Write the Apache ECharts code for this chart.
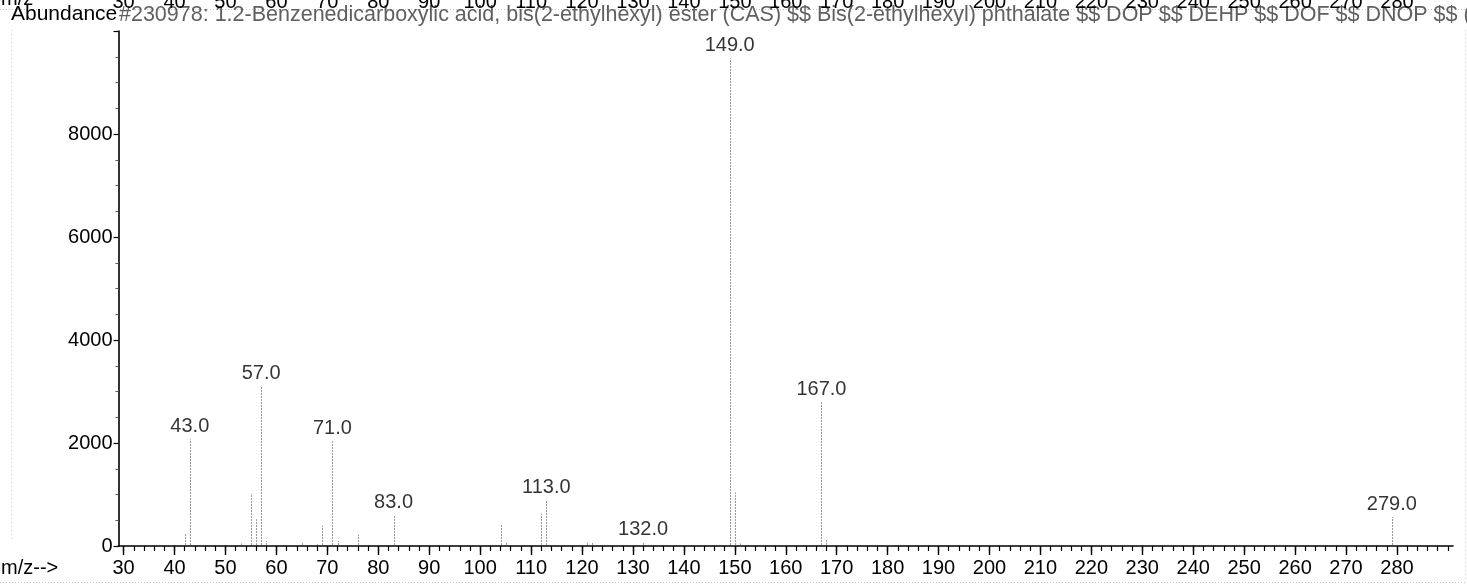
<!DOCTYPE html>
<html>
<head>
<meta charset="utf-8">
<title>Mass spectrum – bis(2-ethylhexyl) phthalate</title>
<script src="https://cdn.jsdelivr.net/npm/echarts@6/dist/echarts.min.js"></script>
<style>
  html, body { margin: 0; padding: 0; background: #ffffff; }
  #chart { width: 1467px; height: 585px; }
</style>
</head>
<body>
<div id="chart"></div>
<script>
// Library spectrum: m/z values and their abundances
const mz        = [42, 43, 53, 55, 56, 57, 58, 65, 68, 69, 71, 72, 76, 83, 104, 105, 112, 113, 121, 122, 132, 148, 149, 150, 151, 167, 168, 279];
const abundance = [245, 2070, 50, 1020, 520, 3100, 100, 80, 40, 395, 2035, 100, 220, 600, 420, 65, 630, 900, 85, 60, 80, 20, 9470, 1040, 50, 2800, 115, 560];

// Peaks that carry an m/z label
const labeledPeaks = [43, 57, 71, 83, 113, 132, 149, 167, 279];

// Axis ticks and labels
const xMajorTicks = [30, 40, 50, 60, 70, 80, 90, 100, 110, 120, 130, 140, 150, 160, 170, 180, 190, 200, 210, 220, 230, 240, 250, 260, 270, 280];
const xMinorTicks = [];
for (let v = 30; v <= 290; v += 2) xMinorTicks.push(v);
const yTickLabels = [0, 2000, 4000, 6000, 8000];

const headerLabel = 'Abundance';
const compoundText = '#230978: 1.2-Benzenedicarboxylic acid, bis(2-ethylhexyl) ester (CAS) $$ Bis(2-ethylhexyl) phthalate $$ DOP $$ DEHP $$ DOF $$ DNOP $$ (';
const xAxisName = 'm/z-->';

const FONT = '"Liberation Sans", Arial, sans-serif';
const X_MIN = 29, X_MAX = 291;

const peaks = mz.map((m, i) => [m, abundance[i]]);
const labelData = labeledPeaks.map(m => [m, abundance[mz.indexOf(m)]]);

const chart = echarts.init(document.getElementById('chart'), null, { renderer: 'canvas' });

const plain = v => String(v);

const option = {
  backgroundColor: '#ffffff',
  animation: false,
  grid: { left: 118.5, right: 14, top: 31, bottom: 39, containLabel: false, outerBoundsMode: 'none' },
  xAxis: [
    {
      type: 'value', min: X_MIN, max: X_MAX, position: 'bottom',
      axisLine: { show: true, onZero: false, lineStyle: { color: '#000', width: 1.6 } },
      axisTick: { show: true, customValues: xMajorTicks, length: 9, lineStyle: { color: '#000', width: 1.4 } },
      axisLabel: { show: true, customValues: xMajorTicks, formatter: plain, margin: 12, color: '#000', fontSize: 20, fontFamily: FONT },
      splitLine: { show: false }
    },
    {
      type: 'value', min: X_MIN, max: X_MAX, position: 'bottom',
      axisLine: { show: false },
      axisTick: { show: true, customValues: xMinorTicks, length: 5, lineStyle: { color: '#000', width: 1.2 } },
      axisLabel: { show: false },
      splitLine: { show: false }
    },
    {
      // repeated scale strip along the top edge
      type: 'value', min: X_MIN, max: X_MAX, position: 'top', offset: 19,
      axisLine: { show: false },
      axisTick: { show: false },
      axisLabel: { show: true, customValues: xMajorTicks, formatter: plain, margin: 0, color: '#000', fontSize: 20, fontFamily: FONT },
      splitLine: { show: false }
    }
  ],
  yAxis: {
    type: 'value', min: 0, max: 10000, interval: 2000,
    axisLine: { show: true, lineStyle: { color: '#000', width: 1.6 } },
    axisTick: { show: true, length: 5, lineStyle: { color: '#000', width: 1.2 } },
    minorTick: { show: true, splitNumber: 4, length: 3, lineStyle: { color: '#555', width: 1 } },
    axisLabel: { show: true, customValues: yTickLabels, formatter: plain, margin: 6, color: '#000', fontSize: 20, fontFamily: FONT },
    splitLine: { show: false }
  },
  series: [
    {
      type: 'custom',
      name: 'peaks',
      xAxisIndex: 0,
      silent: true,
      data: peaks,
      renderItem: (params, api) => {
        const base = api.coord([api.value(0), 0]);
        const top = api.coord([api.value(0), api.value(1)]);
        const x = Math.round(base[0]) + 0.5;
        return {
          type: 'line',
          shape: { x1: x, y1: base[1] - 1, x2: x, y2: top[1] },
          style: { stroke: '#9a9a9a', lineWidth: 1, lineDash: [2, 1] }
        };
      }
    },
    {
      type: 'scatter',
      name: 'labels',
      xAxisIndex: 0,
      silent: true,
      data: labelData,
      symbolSize: 1,
      itemStyle: { color: 'rgba(0,0,0,0)' },
      label: {
        show: true, position: 'top', distance: 2,
        color: '#000', fontSize: 20, fontFamily: FONT,
        formatter: p => p.value[0].toFixed(1)
      }
    }
  ],
  graphic: [
    // faint dotted page frame
    { type: 'line', silent: true, shape: { x1: 0, y1: 9.5, x2: 1467, y2: 9.5 }, style: { stroke: '#c4c4c4', lineWidth: 1, lineDash: [1, 2] } },
    { type: 'line', silent: true, shape: { x1: 0, y1: 582.5, x2: 1467, y2: 582.5 }, style: { stroke: '#c4c4c4', lineWidth: 1, lineDash: [1, 2] } },
    { type: 'line', silent: true, shape: { x1: 11.5, y1: 30, x2: 11.5, y2: 540 }, style: { stroke: '#d0d0d0', lineWidth: 1, lineDash: [1, 3] } },
    { type: 'line', silent: true, shape: { x1: 1465.5, y1: 30, x2: 1465.5, y2: 582 }, style: { stroke: '#d0d0d0', lineWidth: 1, lineDash: [1, 3] } },
    // header
    { type: 'text', silent: true, left: 1, top: -11, style: { text: 'm/z', fill: '#000', font: '20px ' + FONT } },
    { type: 'text', silent: true, left: 11, top: 4, style: { text: headerLabel, fill: '#000', font: '21px ' + FONT } },
    { type: 'text', silent: true, left: 119, top: 4, style: { text: compoundText, fill: '#606060', font: '21.5px ' + FONT } },
    // x axis name
    { type: 'text', silent: true, left: 1, top: 558, style: { text: xAxisName, fill: '#000', font: '20px ' + FONT } }
  ]
};

chart.setOption(option);
</script>
</body>
</html>
